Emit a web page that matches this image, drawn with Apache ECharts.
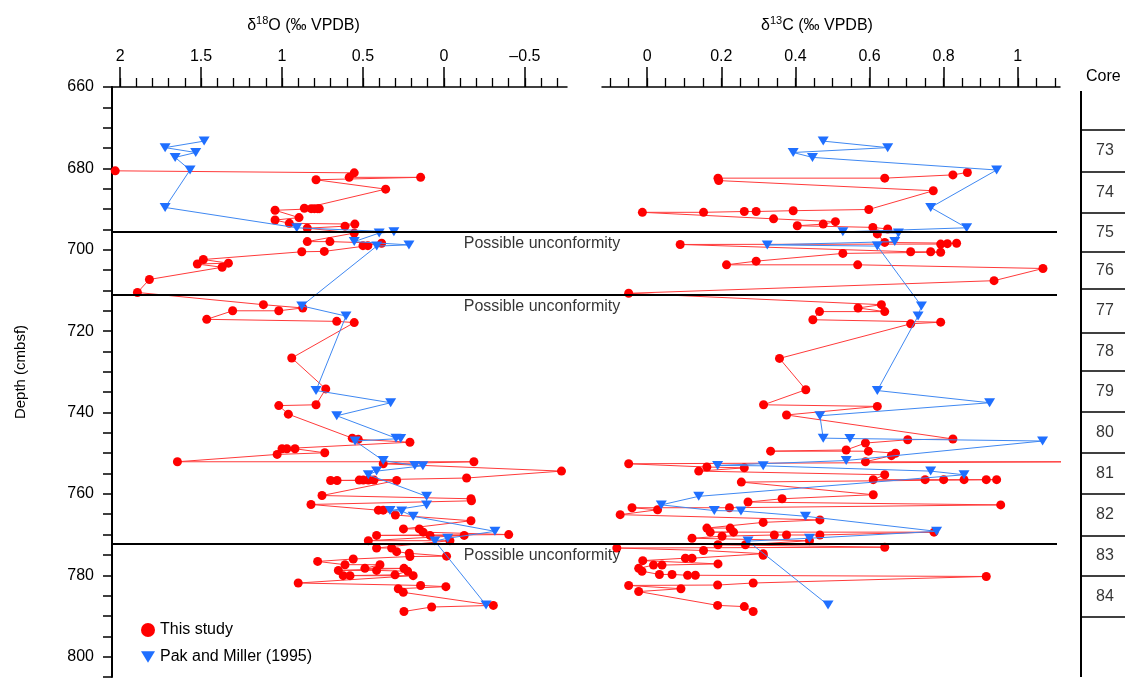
<!DOCTYPE html>
<html>
<head>
<meta charset="utf-8">
<script src="https://cdn.jsdelivr.net/npm/echarts@6/dist/echarts.min.js"></script>
<style>
  html, body { margin: 0; padding: 0; background: #fff; }
  #chart { width: 1125px; height: 679px; }
</style>
</head>
<body>
<div id="chart"></div>
<script>
// --- this study, d18O (depth in cmbsf, value in permil) ---
const redDepthO = [680.6, 681.1, 682.2, 682.2, 682.8, 685.1, 689.8, 689.9, 689.9, 689.9, 689.9, 690.3, 692.1, 692.7, 693.5, 693.7,
  694.2, 694.7, 695.9, 698.0, 698.0, 698.4, 699.0, 699.0, 700.4, 700.5, 702.4, 703.3, 703.5, 704.3, 707.3, 710.5,
  713.5, 714.3, 715.0, 715.0, 717.1, 717.6, 717.9, 726.6, 734.2, 738.1, 738.3, 740.4, 746.3, 746.6, 747.3,
  748.9, 748.9, 748.9, 749.9, 750.3, 752.1, 752.1, 752.6, 754.4, 756.1, 756.6, 756.6, 756.6, 756.6, 756.7, 756.7, 756.7,
  760.4, 761.2, 761.7, 762.6, 764.0, 764.0, 765.2, 766.6, 768.6, 768.6, 769.4, 770.0, 770.2, 770.2, 770.2, 771.5, 771.5,
  773.3, 773.3, 774.2, 774.6, 775.3, 775.4, 776.0, 776.6, 777.4, 777.4, 778.3, 778.3, 778.8, 778.8, 779.0, 779.9,
  780.1, 780.1, 780.1, 781.9, 782.5, 782.8, 783.3, 784.2, 787.4, 787.8, 788.9];
const redO = [2.03, 0.554, 0.585, 0.144, 0.79, 0.36, 0.862, 0.82, 0.80, 0.78, 0.77, 1.043, 0.895, 1.043, 0.955, 0.55,
  0.611, 0.844, 0.554, 0.844, 0.704, 0.385, 0.50, 0.47, 0.739, 0.878, 1.486, 1.331, 1.523, 1.370, 1.819, 1.893,
  1.115, 0.872, 1.02, 1.305, 1.465, 0.662, 0.554, 0.94, 0.73, 0.79, 1.02, 0.961, 0.566, 0.529, 0.21,
  1.0, 0.97, 0.92, 0.736, 1.03, 1.646, -0.185, 0.375, -0.726, -0.14, 0.523, 0.498, 0.467, 0.432, 0.70, 0.66, 0.292,
  0.753, -0.167, -0.17, 0.821, 0.405, 0.375, 0.30, -0.167, 0.25, 0.152, 0.128, -0.40, 0.416, 0.086, -0.125, 0.467, -0.037,
  0.416, 0.323, 0.292, 0.214, -0.016, 0.21, 0.56, 0.78, 0.611, 0.395, 0.488, 0.247, 0.652, 0.416, 0.224, 0.302,
  0.622, 0.58, 0.19, 0.9, 0.144, -0.012, 0.282, 0.251, -0.305, 0.076, 0.247];

// --- this study, d13C ---
const redDepthC = [681.0, 681.6, 682.4, 682.4, 683.0, 685.5, 690.1, 690.4, 690.6, 690.6, 690.8, 690.8, 692.4, 693.1, 693.7, 694.1,
  694.5, 694.9, 696.1, 698.2, 698.4, 698.5, 698.6, 698.7, 700.5, 700.5, 700.6, 700.9, 702.8, 703.7, 703.7, 704.6, 707.6, 710.7,
  713.5, 714.3, 715.2, 715.2, 717.2, 717.8, 718.2, 726.7, 734.4, 738.1, 738.5, 740.6, 746.5, 746.7, 747.5,
  749.2, 749.5, 749.5, 750.0, 750.6, 752.1, 752.1, 752.6, 753.4, 753.6, 754.4, 755.3, 756.5, 756.5, 756.5, 756.5, 756.5, 756.5,
  757.1, 760.2, 761.2, 762.0, 762.7, 763.4, 763.4, 763.9, 765.1, 766.4, 767.0, 768.4, 768.4, 769.4, 769.4, 769.4,
  770.1, 770.1, 770.1, 770.4, 770.9, 771.5, 772.5, 772.5, 773.1, 773.3, 773.9, 774.7, 775.1, 775.8, 775.8, 776.4,
  777.2, 777.5, 777.5, 778.3, 779.0, 779.8, 779.8, 780.0, 780.0, 780.3, 781.9, 782.4, 782.5, 783.3, 784.0, 787.4, 787.7, 788.9];
const redC = [0.864, 0.825, 0.641, 0.191, 0.193, 0.772, 0.598, 0.394, 0.294, 0.262, 0.152, -0.013, 0.341, 0.508, 0.475, 0.405,
  0.609, 0.649, 0.621, 0.641, 0.835, 0.81, 0.792, 0.089, 0.711, 0.765, 0.792, 0.528, 0.294, 0.214, 0.568, 1.068, 0.936, -0.05,
  0.632, 0.569, 0.641, 0.465, 0.447, 0.792, 0.711, 0.357, 0.428, 0.314, 0.621, 0.376, 0.825, 0.703, 0.589,
  0.537, 0.333, 0.597, 0.670, 0.659, 0.589, 1.2, -0.05, 0.161, 0.262, 0.139, 0.641, 0.61, 0.75, 0.80, 0.855, 0.915, 0.943,
  0.254, 0.61, 0.364, 0.272, 0.954, 0.222, -0.041, 0.028, -0.073, 0.466, 0.313, 0.161, 0.224, 0.233, 0.17, 0.774,
  0.466, 0.376, 0.343, 0.202, 0.121, 0.438, 0.265, 0.191, 0.641, -0.082, 0.152, 0.313, 0.313, 0.121, 0.103, -0.012,
  0.191, 0.04, 0.017, -0.023, -0.014, 0.033, 0.067, 0.109, 0.13, 0.915, 0.286, 0.19, -0.05, 0.091, -0.023, 0.19, 0.262, 0.286];

// --- Pak and Miller (1995) ---
const pakDepth = [673.3, 674.9, 676.1, 677.3, 680.4, 689.6, 694.6, 695.6, 695.9, 698.0, 698.8, 699.1, 713.8, 716.3,
  734.6, 737.6, 740.8, 746.3, 746.4, 747.0, 751.8, 753.0, 753.1, 754.4, 755.3, 760.6, 762.7, 764.1, 764.2, 765.5,
  769.2, 770.9, 771.6, 787.3];
const pakO = [1.481, 1.722, 1.533, 1.66, 1.568, 1.722, 0.909, 0.309, 0.40, 0.554, 0.216, 0.415, 0.878, 0.605,
  0.79, 0.329, 0.662, 0.296, 0.267, 0.549, 0.375, 0.18, 0.13, 0.416, 0.467, 0.107, 0.107, 0.333, 0.261, 0.19,
  -0.315, -0.023, 0.056, -0.26];
const pakC = [0.475, 0.649, 0.394, 0.446, 0.943, 0.765, 0.862, 0.528, 0.678, 0.668, 0.324, 0.621, 0.74, 0.731,
  0.621, 0.924, 0.466, 0.475, 0.547, 1.067, 0.537, 0.19, 0.313, 0.765, 0.855, 0.139, 0.038, 0.181, 0.253, 0.427,
  0.781, 0.438, 0.272, 0.488];

// unconformities and core boundaries (cmbsf)
const unconformities = [695.5, 711.0, 772.3];
const coreBounds = [670.6, 680.8, 691.0, 700.4, 709.6, 720.3, 729.7, 739.9, 750.0, 760.0, 770.2, 780.0, 790.3];
const coreNames = ['73', '74', '75', '76', '77', '78', '79', '80', '81', '82', '83', '84'];

// tick values
const depthLabels = [660, 680, 700, 720, 740, 760, 780, 800];
const depthTicks = [660, 665, 670, 675, 680, 685, 690, 695, 700, 705, 710, 715, 720, 725, 730, 735, 740, 745,
  750, 755, 760, 765, 770, 775, 780, 785, 790, 795, 800, 805];
const oMajor = [2, 1.5, 1, 0.5, 0, -0.5];
const oMinor = [2, 1.9, 1.8, 1.7, 1.6, 1.5, 1.4, 1.3, 1.2, 1.1, 1, 0.9, 0.8, 0.7, 0.6, 0.5, 0.4, 0.3, 0.2, 0.1, 0,
  -0.1, -0.2, -0.3, -0.4, -0.5, -0.6, -0.7];
const cMajor = [0, 0.2, 0.4, 0.6, 0.8, 1];
const cMinor = [-0.1, -0.05, 0, 0.05, 0.1, 0.15, 0.2, 0.25, 0.3, 0.35, 0.4, 0.45, 0.5, 0.55, 0.6, 0.65, 0.7, 0.75,
  0.8, 0.85, 0.9, 0.95, 1, 1.05, 1.1];

const FONT = '"Liberation Sans", Arial, sans-serif';
const RED = '#ff0000', RED_LINE = '#ff3a3a';
const BLUE = '#1f6fff', BLUE_LINE = '#3f88f2';
const TRI = 'path://M0,0L12,0L6,10Z';

const zip = (xs, ys) => xs.map((x, i) => [x, ys[i]]);
const fmt = v => (v < 0 ? '\u2013' + Math.abs(v) : String(v));

const TOP = 87, H = 590, DMIN = 660, DMAX = 805;

function mainAxis(grid, min, max, inverse, minor) {
  return {
    type: 'value', gridIndex: grid, position: 'top', min, max, inverse,
    axisLine: { show: true, onZero: false, lineStyle: { color: '#000', width: 1.5 } },
    axisTick: { show: true, customValues: minor, length: 9, lineStyle: { color: '#000', width: 1.3 } },
    axisLabel: { show: false },
    splitLine: { show: false }
  };
}
function labelAxis(grid, min, max, inverse, major, sup, rest, shift) {
  return {
    type: 'value', gridIndex: grid, position: 'top', min, max, inverse,
    axisLine: { show: false, onZero: false },
    axisTick: { show: true, customValues: major, length: 20, lineStyle: { color: '#000', width: 1.5 } },
    axisLabel: { customValues: major, formatter: fmt, margin: 22, fontSize: 16, color: '#000', fontFamily: FONT },
    splitLine: { show: false },
    name: '{d|δ}{s|' + sup + '}{d|' + rest + '}',
    nameLocation: 'middle', nameGap: 50,
    nameTextStyle: {
      padding: [0, shift, 0, 0],
      rich: {
        d: { fontSize: 16, color: '#000', fontFamily: FONT, lineHeight: 22 },
        s: { fontSize: 11, color: '#000', fontFamily: FONT, verticalAlign: 'top', lineHeight: 22 }
      }
    }
  };
}
function hiddenY(grid) {
  return { type: 'value', gridIndex: grid, min: DMIN, max: DMAX, inverse: true, show: false };
}

const chart = echarts.init(document.getElementById('chart'));
chart.setOption({
  animation: false,
  backgroundColor: '#fff',
  textStyle: { fontFamily: FONT },
  grid: [
    { left: 112, top: TOP, width: 455, height: H },
    { left: 602, top: TOP, width: 458, height: H },
    { left: 1081, top: TOP, width: 44, height: H },
    { left: 112, top: TOP, width: 945, height: H }
  ],
  xAxis: [
    mainAxis(0, -0.76, 2.05, true, oMinor),
    labelAxis(0, -0.76, 2.05, true, oMajor, '18', 'O (‰ VPDB)', 72),
    mainAxis(1, -0.122, 1.114, false, cMinor),
    labelAxis(1, -0.122, 1.114, false, cMajor, '13', 'C (‰ VPDB)', 28),
    { type: 'value', gridIndex: 2, min: 0, max: 1, show: false },
    { type: 'value', gridIndex: 3, min: 0, max: 1, show: false }
  ],
  yAxis: [
    {
      type: 'value', gridIndex: 0, min: DMIN, max: DMAX, inverse: true, position: 'left',
      axisLine: { show: true, onZero: false, lineStyle: { color: '#000', width: 2 } },
      axisTick: { show: true, customValues: depthTicks, length: 9, lineStyle: { color: '#000', width: 1.5 } },
      axisLabel: { customValues: depthLabels, margin: 18, fontSize: 16, color: '#000', fontFamily: FONT },
      splitLine: { show: false },
      name: 'Depth (cmbsf)', nameLocation: 'middle', nameGap: 84, nameRotate: 90,
      nameTextStyle: { fontSize: 15, color: '#000', fontFamily: FONT, padding: [0, 0, 0, 20] }
    },
    hiddenY(1), hiddenY(2), hiddenY(3)
  ],
  legend: {
    left: 136, top: 617, orient: 'vertical', itemWidth: 14, itemHeight: 14, itemGap: 11,
    textStyle: { fontSize: 16, color: '#000', fontFamily: FONT },
    data: [{ name: 'This study', icon: 'circle' }, { name: 'Pak and Miller (1995)', icon: TRI }]
  },
  graphic: [
    { type: 'text', left: 1086, top: 69, style: { text: 'Core', fontSize: 16, fill: '#000', fontFamily: FONT } }
  ],
  series: [
    {
      name: 'This study', type: 'line', xAxisIndex: 0, yAxisIndex: 0, data: zip(redO, redDepthO),
      symbol: 'circle', symbolSize: 9, showAllSymbol: true, itemStyle: { color: RED },
      lineStyle: { color: RED_LINE, width: 1 }, z: 3
    },
    {
      name: 'Pak and Miller (1995)', type: 'line', xAxisIndex: 0, yAxisIndex: 0, data: zip(pakO, pakDepth),
      symbol: TRI, symbolSize: [11, 9], showAllSymbol: true, itemStyle: { color: BLUE },
      lineStyle: { color: BLUE_LINE, width: 1 }, z: 4
    },
    {
      name: 'This study', type: 'line', xAxisIndex: 2, yAxisIndex: 1, data: zip(redC, redDepthC),
      symbol: 'circle', symbolSize: 9, showAllSymbol: true, itemStyle: { color: RED },
      lineStyle: { color: RED_LINE, width: 1 }, z: 3
    },
    {
      name: 'Pak and Miller (1995)', type: 'line', xAxisIndex: 2, yAxisIndex: 1, data: zip(pakC, pakDepth),
      symbol: TRI, symbolSize: [11, 9], showAllSymbol: true, itemStyle: { color: BLUE },
      lineStyle: { color: BLUE_LINE, width: 1 }, z: 4
    },
    {
      // unconformity lines across both panels, with their labels
      type: 'scatter', xAxisIndex: 5, yAxisIndex: 3,
      data: unconformities.map(d => [0.455, d]),
      symbolSize: 1, itemStyle: { color: 'rgba(0,0,0,0)' }, silent: true,
      label: {
        show: true, formatter: 'Possible unconformity', position: 'inside', offset: [0, 12],
        fontSize: 16, color: '#000', fontFamily: FONT
      },
      markLine: {
        silent: true, symbol: 'none', label: { show: false }, animation: false,
        lineStyle: { color: '#000', width: 2, type: 'solid' },
        data: unconformities.map(d => ({ yAxis: d }))
      },
      z: 5
    },
    {
      // core column edge
      type: 'line', xAxisIndex: 4, yAxisIndex: 2, data: [[0, 661], [0, DMAX]], clip: false,
      symbol: 'none', silent: true, lineStyle: { color: '#000', width: 2 }
    },
    {
      // core boundaries and numbers
      type: 'scatter', xAxisIndex: 4, yAxisIndex: 2, silent: true,
      data: coreNames.map((n, i) => ({ name: n, value: [0.545, (coreBounds[i] + coreBounds[i + 1]) / 2] })),
      symbolSize: 1, itemStyle: { color: 'rgba(0,0,0,0)' },
      label: { show: true, formatter: '{b}', position: 'inside', fontSize: 16, color: '#000', fontFamily: FONT },
      markLine: {
        silent: true, symbol: 'none', label: { show: false }, animation: false,
        lineStyle: { color: '#000', width: 1.5, type: 'solid' },
        data: coreBounds.map(d => ({ yAxis: d }))
      }
    }
  ]
});
window.addEventListener('resize', () => chart.resize());
</script>
</body>
</html>
